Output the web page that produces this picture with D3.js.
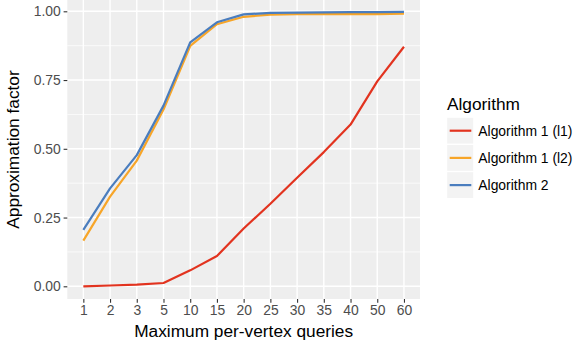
<!DOCTYPE html>
<html>
<head>
<meta charset="utf-8">
<script src="https://cdn.jsdelivr.net/npm/d3@7"></script>
<style>
  html, body { margin: 0; padding: 0; background: #ffffff; }
  svg { display: block; }
  text { font-family: "Liberation Sans", Arial, Helvetica, sans-serif; }
</style>
</head>
<body>
<div id="chart"></div>
<script>
// Query budgets (discrete categories on the x axis)
const queries = ["1", "2", "3", "5", "10", "15", "20", "25", "30", "35", "40", "50", "60"];

// Approximation factor per algorithm
const alg1L1 = [0.000, 0.003, 0.006, 0.012, 0.058, 0.110, 0.210, 0.300, 0.395, 0.488, 0.588, 0.745, 0.871];
const alg1L2 = [0.166, 0.326, 0.457, 0.643, 0.874, 0.953, 0.980, 0.988, 0.990, 0.990, 0.990, 0.990, 0.991];
const alg2   = [0.205, 0.356, 0.477, 0.657, 0.887, 0.960, 0.989, 0.994, 0.995, 0.996, 0.997, 0.997, 0.998];

const seriesNames  = ["Algorithm 1 (l1)", "Algorithm 1 (l2)", "Algorithm 2"];
const seriesValues = [alg1L1, alg1L2, alg2];
const seriesColors = ["#E2331F", "#F7A528", "#4A7DBE"];

const yTicks = [0, 0.25, 0.5, 0.75, 1.0];
const yMinor = [0.125, 0.375, 0.625, 0.875];

const W = 574, H = 347;
const panel = { left: 67.3, right: 420, top: 0, bottom: 299 };

const svg = d3.select("#chart").append("svg")
  .attr("width", W).attr("height", H);

const x = d3.scalePoint()
  .domain(queries)
  .range([panel.left, panel.right])
  .padding(0.6);

const y = d3.scaleLinear()
  .domain([0, 1])
  .range([286.3, 11.3]);

// Panel background
svg.append("rect")
  .attr("x", panel.left).attr("y", panel.top)
  .attr("width", panel.right - panel.left)
  .attr("height", panel.bottom - panel.top)
  .attr("fill", "#EEEEEE");

const grid = svg.append("g");
grid.selectAll("line.minor").data(yMinor).join("line")
  .attr("x1", panel.left).attr("x2", panel.right)
  .attr("y1", d => y(d)).attr("y2", d => y(d))
  .attr("stroke", "#fff").attr("stroke-width", 0.7);
grid.selectAll("line.hmaj").data(yTicks).join("line")
  .attr("x1", panel.left).attr("x2", panel.right)
  .attr("y1", d => y(d)).attr("y2", d => y(d))
  .attr("stroke", "#fff").attr("stroke-width", 1.4);
grid.selectAll("line.vmaj").data(queries).join("line")
  .attr("x1", d => x(d)).attr("x2", d => x(d))
  .attr("y1", panel.top).attr("y2", panel.bottom)
  .attr("stroke", "#fff").attr("stroke-width", 1.4);

// Series lines
const line = d3.line()
  .x((d, i) => x(queries[i]))
  .y(d => y(d));

svg.append("g").selectAll("path")
  .data(seriesValues)
  .join("path")
  .attr("d", d => line(d))
  .attr("fill", "none")
  .attr("stroke", (d, i) => seriesColors[i])
  .attr("stroke-width", 2.2)
  .attr("stroke-linejoin", "round");

// Axes
const yAxis = d3.axisLeft(y)
  .tickValues(yTicks)
  .tickFormat(d3.format(".2f"))
  .tickSize(3.7)
  .tickPadding(2.9);
const gy = svg.append("g")
  .attr("transform", `translate(${panel.left},0)`)
  .call(yAxis);

const xAxis = d3.axisBottom(x)
  .tickSize(3.7)
  .tickPadding(2.9);
const gx = svg.append("g")
  .attr("transform", `translate(0,${panel.bottom})`)
  .call(xAxis);

[gx, gy].forEach(g => {
  g.select(".domain").remove();
  g.selectAll(".tick line").attr("stroke", "#333333").attr("stroke-width", 1.1);
  g.selectAll(".tick text")
    .attr("fill", "#4D4D4D")
    .style("font-size", "13.9px")
    .style("font-family", "'Liberation Sans', Arial, sans-serif");
});

// Axis titles
svg.append("text")
  .attr("x", (panel.left + panel.right) / 2)
  .attr("y", 337)
  .attr("text-anchor", "middle")
  .style("font-size", "17.3px")
  .attr("fill", "#000")
  .text("Maximum per-vertex queries");

svg.append("text")
  .attr("transform", `translate(19,${(panel.top + panel.bottom) / 2}) rotate(-90)`)
  .attr("text-anchor", "middle")
  .style("font-size", "17.3px")
  .attr("fill", "#000")
  .text("Approximation factor");

// Legend
const legend = svg.append("g");
legend.append("text")
  .attr("x", 447).attr("y", 110)
  .style("font-size", "17.3px")
  .attr("fill", "#000")
  .text("Algorithm");

const keyH = 27.2, keyTop = 117.1;
const items = legend.selectAll("g.key").data(seriesNames).join("g")
  .attr("transform", (d, i) => `translate(446.5,${keyTop + i * keyH})`);
items.append("rect")
  .attr("x", 0.7).attr("y", 0.7)
  .attr("width", 26).attr("height", keyH - 1.4)
  .attr("fill", "#F3F3F3");
items.append("line")
  .attr("x1", 3.2).attr("x2", 24.8)
  .attr("y1", keyH / 2).attr("y2", keyH / 2)
  .attr("stroke", (d, i) => seriesColors[i])
  .attr("stroke-width", 2.2);
items.append("text")
  .attr("x", 31.8).attr("y", keyH / 2 + 5)
  .style("font-size", "13.9px")
  .attr("fill", "#000")
  .text(d => d);
</script>
</body>
</html>
